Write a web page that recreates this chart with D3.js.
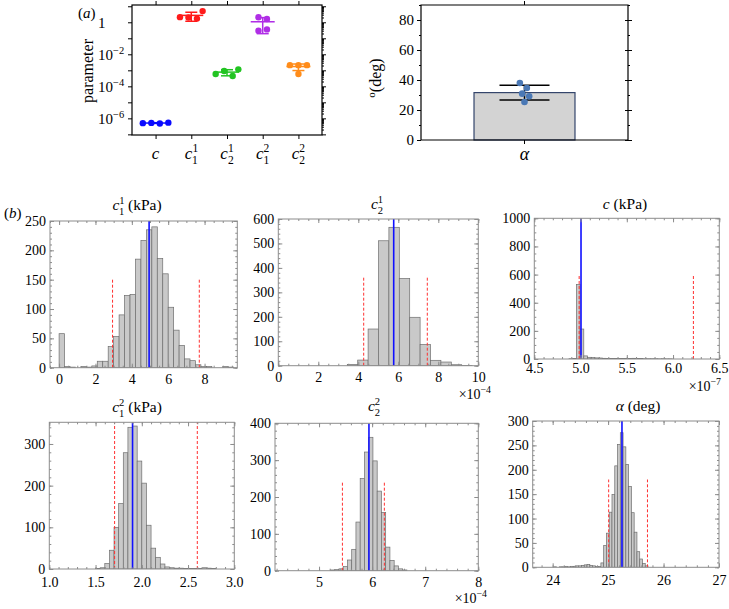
<!DOCTYPE html>
<html>
<head>
<meta charset="utf-8">
<script src="https://cdn.jsdelivr.net/npm/d3@7"></script>
<style>
  body { margin: 0; background: #fff; }
  svg text { font-family: "Liberation Serif", "DejaVu Serif", serif; }
</style>
</head>
<body>
<svg id="fig" width="729" height="609"></svg>
<script>
// ---------- panel (a): fitted parameters per specimen ----------
const params = ["c", "c11", "c21", "c12", "c22"];
const paramSub = ["", "1", "2", "1", "2"];
const paramSup = ["", "1", "1", "2", "2"];
const paramValues = [
    [5.2e-7, 4.8e-7, 5.0e-7, 5.4e-7],
    [2.0, 1.7, 2.1, 5.0],
    [9.1e-4, 4.4e-4, 5.9e-4, 1.15e-3],
    [2.05, 1.6, 0.30, 0.36],
    [2.1e-3, 2.1e-3, 2.1e-3, 5.9e-4]
];
const logTicks = [1e-6, 1e-4, 1e-2, 1];
const alphaValues = [25.3, 29.1, 30.9, 34.7, 38];
const alphaTicks = [0, 20, 40, 60, 80];

// ---------- panel (b): posterior histograms ----------
const c11Counts = [58, 2, 1, 0, 2, 1, 3, 11, 11, 36, 53, 90, 123, 125, 185, 217, 235, 240, 186, 160, 103, 64, 38, 15, 12, 5, 2, 2, 0, 0, 2, 1];
const c11Bins = [0, 0.3];          // first edge, width
const c11Lines = [4.95, 2.94, 7.71]; // mean, lower, upper
const c11XTicks = [0, 2, 4, 6, 8];
const c11YTicks = [0, 50, 100, 150, 200, 250];

const c21Counts = [5, 23, 150, 511, 566, 357, 198, 87, 22, 15, 4, 1];
const c21Bins = [3.45, 0.52];
const c21Lines = [5.77, 4.27, 7.45];
const c21XTicks = [0, 2, 4, 6, 8, 10];
const c21YTicks = [0, 100, 200, 300, 400, 500, 600];

const cCounts = [2, 3, 530, 213, 22, 12, 10, 8, 7, 5, 4, 4, 3, 4, 3, 3, 4, 5, 4, 3, 2, 2, 2, 2, 1, 2, 1, 1];
const cBins = [4.875, 0.04];
const cLines = [5.005, 4.985, 6.22];
const cXTicks = [4.5, 5.0, 5.5, 6.0, 6.5];
const cYTicks = [0, 200, 400, 600, 800, 1000];

const c12Counts = [1, 3, 13, 45, 100, 157, 279, 340, 343, 259, 206, 105, 50, 28, 12, 5, 3, 2, 2, 1, 1, 1, 1, 3, 2, 1];
const c12Bins = [1.5, 0.05];
const c12Lines = [1.90, 1.706, 2.60];
const c12XTicks = [1.0, 1.5, 2.0, 2.5, 3.0];
const c12YTicks = [0, 100, 200, 300];

const c22Counts = [2, 3, 5, 11, 29, 58, 132, 250, 322, 362, 298, 216, 158, 64, 28, 13, 5, 2];
const c22Bins = [5.215, 0.08];
const c22Lines = [5.94, 5.44, 6.23];
const c22XTicks = [5, 6, 7, 8];
const c22YTicks = [0, 100, 200, 300, 400];

const alphaCounts = [1, 0, 1, 1, 2, 1, 2, 2, 3, 3, 4, 5, 6, 4, 3, 2, 2, 9, 45, 70, 113, 149, 208, 252, 276, 247, 211, 166, 112, 72, 32, 17, 8, 3];
const alphaBins = [24.02, 0.05];
const alphaLines = [25.25, 25.01, 25.71];
const alphaXTicks = [24, 25, 26, 27];
const alphaYTicks = [0, 50, 100, 150, 200, 250, 300];

// ---------- helpers ----------
const svg = d3.select("#fig");

// italic symbol with stacked sub/superscript, then plain text
function symbolText(parent, x, y, size, base, sub, sup, rest, anchor) {
    const t = parent.append("text")
        .attr("x", x).attr("y", y)
        .attr("font-size", size)
        .attr("text-anchor", anchor || "middle");
    t.append("tspan").attr("font-style", "italic").text(base);
    const s = size * 0.68;
    if (sup) {
        t.append("tspan").attr("font-size", s).attr("dy", -size * 0.4).text(sup);
        t.append("tspan").attr("font-size", s).attr("dx", -s * 0.5).attr("dy", size * 0.72).text(sub);
        if (rest) t.append("tspan").attr("dy", -size * 0.32).text(rest);
    } else if (rest) {
        t.append("tspan").text(rest);
    }
    return t;
}

function powerText(sel, base, exp, size) {
    sel.text(base);
    sel.append("tspan").attr("font-size", size * 0.7).attr("dy", -size * 0.42).text(exp);
}

function minorRange(dom, step) {
    const lo = Math.ceil(dom[0] / step - 1e-6), hi = Math.floor(dom[1] / step + 1e-6);
    return d3.range(lo, hi + 1).map(k => +(k * step).toFixed(6));
}

function swarm(vals, yS, sep) {
    const placed = [];
    const step = sep / 3;
    vals.forEach(v => {
        const py = yS(v);
        for (let k = 0; k < 60; k++) {
            const dx = (k % 2 ? 1 : -1) * Math.ceil(k / 2) * step;
            if (placed.every(p => Math.hypot(p.dx - dx, p.y - py) >= sep)) {
                placed.push({dx: dx, y: py});
                break;
            }
        }
    });
    const mid = (d3.min(placed, p => p.dx) + d3.max(placed, p => p.dx)) / 2;
    return placed.map(p => p.dx - mid);
}

function styleAxis(g, color) {
    g.select(".domain").remove();
    g.selectAll(".tick line").attr("stroke", color);
    g.selectAll(".tick text").attr("fill", "#000");
    g.attr("font-family", null).attr("font-size", null);
}

// ---------- panel (a) left ----------
const paramColors = ["#0a0aff", "#ff1a1a", "#22c422", "#b02ee6", "#ff8c1a"];
const A = {left: 132, top: 5, right: 322, bottom: 135};

const xPar = d3.scalePoint().domain(params).range([A.left, A.right]).padding(0.66);
const yLog = d3.scaleLog()
    .domain([Math.pow(10, -7.04), Math.pow(10, 1.08)])
    .range([A.bottom, A.top]);

const gA = svg.append("g");
const decades = d3.range(-7, 2).map(e => Math.pow(10, e));
const logMinor = [];
decades.forEach(d => d3.range(2, 10).forEach(m => {
    const v = d * m;
    if (v < yLog.domain()[1]) logMinor.push(v);
}));

gA.append("g").attr("transform", "translate(" + A.left + ",0)")
    .call(d3.axisLeft(yLog).tickValues(decades).tickSize(4).tickFormat(""))
    .call(g => styleAxis(g, "#000"));
gA.append("g").attr("transform", "translate(" + A.left + ",0)")
    .call(d3.axisLeft(yLog).tickValues(logTicks).tickSize(0).tickFormat(""))
    .call(g => styleAxis(g, "#000"))
    .selectAll(".tick text")
    .attr("x", -34).attr("text-anchor", "start").attr("font-size", 15).attr("dy", "0.36em")
    .each(function (d) {
        const e = Math.round(Math.log10(d));
        if (e === 0) d3.select(this).text("1");
        else powerText(d3.select(this), "10", "\u2212" + Math.abs(e), 15);
    });
gA.append("g").attr("transform", "translate(" + A.right + ",0)")
    .call(d3.axisRight(yLog).tickValues(decades).tickSize(4).tickFormat(""))
    .call(g => styleAxis(g, "#000"));
gA.append("g").attr("transform", "translate(" + A.right + ",0)")
    .call(d3.axisRight(yLog).tickValues(logMinor).tickSize(2).tickFormat(""))
    .call(g => styleAxis(g, "#000"));
gA.append("g").attr("transform", "translate(0," + A.top + ")")
    .call(d3.axisTop(xPar).tickSize(4).tickFormat(""))
    .call(g => styleAxis(g, "#000"));
gA.append("g").attr("transform", "translate(0," + A.bottom + ")")
    .call(d3.axisBottom(xPar).tickSize(4).tickFormat(""))
    .call(g => styleAxis(g, "#000"));

gA.append("rect")
    .attr("x", A.left).attr("y", A.top)
    .attr("width", A.right - A.left).attr("height", A.bottom - A.top)
    .attr("fill", "none").attr("stroke", "#000").attr("stroke-width", 1.2);

params.forEach((p, i) => {
    symbolText(gA, xPar(p), 159, 17, "c", paramSub[i], paramSup[i], "");
});

gA.append("text")
    .attr("transform", "translate(93,71) rotate(-90)")
    .attr("text-anchor", "middle").attr("font-size", 16)
    .text("parameter");

const aLabel = gA.append("text").attr("x", 78).attr("y", 18).attr("font-size", 15);
aLabel.append("tspan").text("(");
aLabel.append("tspan").attr("font-style", "italic").text("a");
aLabel.append("tspan").text(")");

params.forEach((p, i) => {
    const vals = paramValues[i];
    const col = paramColors[i];
    const cx = xPar(p);
    const m = d3.mean(vals), sd = d3.deviation(vals);
    const g = gA.append("g").attr("stroke", col).attr("stroke-width", 1.5);
    g.append("line").attr("x1", cx).attr("x2", cx).attr("y1", yLog(m + sd)).attr("y2", yLog(m - sd));
    g.append("line").attr("x1", cx - 12).attr("x2", cx + 12).attr("y1", yLog(m)).attr("y2", yLog(m));
    [m + sd, m - sd].forEach(v => {
        g.append("line").attr("x1", cx - 6).attr("x2", cx + 6).attr("y1", yLog(v)).attr("y2", yLog(v));
    });
    const offs = swarm(vals, yLog, 8.5);
    gA.append("g").selectAll("circle")
        .data(vals)
        .join("circle")
        .attr("cx", (d, j) => cx + offs[j])
        .attr("cy", d => yLog(d))
        .attr("r", 3.2)
        .attr("fill", col);
});

// ---------- panel (a) right ----------
const B = {left: 421, top: 5, right: 628, bottom: 140};
const yAl = d3.scaleLinear().domain([0, 90]).range([B.bottom, B.top]);
const xAl = d3.scaleBand().domain(["alpha"]).range([B.left, B.right]).paddingInner(0).paddingOuter(0.525);
const gB = svg.append("g");

const aMean = d3.mean(alphaValues), aSd = d3.deviation(alphaValues);
gB.append("rect")
    .attr("x", xAl("alpha")).attr("width", xAl.bandwidth())
    .attr("y", yAl(aMean)).attr("height", yAl(0) - yAl(aMean))
    .attr("fill", "#d3d3d3").attr("stroke", "#34456b").attr("stroke-width", 1.2);

const acx = xAl("alpha") + xAl.bandwidth() / 2;
const eb = gB.append("g").attr("stroke", "#000").attr("stroke-width", 1.5);
eb.append("line").attr("x1", acx).attr("x2", acx).attr("y1", yAl(aMean + aSd)).attr("y2", yAl(aMean - aSd));
[aMean + aSd, aMean - aSd].forEach(v => {
    eb.append("line").attr("x1", acx - 25).attr("x2", acx + 25).attr("y1", yAl(v)).attr("y2", yAl(v));
});
const aOffs = swarm(alphaValues, yAl, 7);
gB.append("g").selectAll("circle")
    .data(alphaValues)
    .join("circle")
    .attr("cx", (d, j) => acx + aOffs[j])
    .attr("cy", d => yAl(d))
    .attr("r", 3.3)
    .attr("fill", "#4a78b5");

gB.append("g").attr("transform", "translate(" + B.left + ",0)")
    .call(d3.axisLeft(yAl).tickValues(alphaTicks).tickSize(4).tickPadding(3))
    .call(g => styleAxis(g, "#000"))
    .selectAll(".tick text").attr("font-size", 15);
gB.append("g").attr("transform", "translate(" + B.left + ",0)")
    .call(d3.axisLeft(yAl).tickValues([10, 30, 50, 70, 90]).tickSize(2).tickFormat(""))
    .call(g => styleAxis(g, "#000"));
gB.append("g").attr("transform", "translate(" + B.right + ",0)")
    .call(d3.axisRight(yAl).tickValues(alphaTicks).tickSize(4).tickFormat(""))
    .call(g => styleAxis(g, "#000"));
gB.append("g").attr("transform", "translate(" + B.right + ",0)")
    .call(d3.axisLeft(yAl).tickValues(alphaTicks).tickSize(3).tickFormat(""))
    .call(g => styleAxis(g, "#000"));
gB.append("g").attr("transform", "translate(" + B.right + ",0)")
    .call(d3.axisRight(yAl).tickValues([10, 30, 50, 70, 90]).tickSize(2).tickFormat(""))
    .call(g => styleAxis(g, "#000"));
gB.append("g").attr("transform", "translate(0," + B.top + ")")
    .call(d3.axisTop(xAl).tickSize(4).tickFormat(""))
    .call(g => styleAxis(g, "#000"));
gB.append("g").attr("transform", "translate(0," + B.bottom + ")")
    .call(d3.axisBottom(xAl).tickSize(4).tickFormat(""))
    .call(g => styleAxis(g, "#000"));

gB.append("path")
    .attr("d", "M" + B.left + "," + B.bottom + "V" + B.top + "H" + B.right + "V" + B.bottom + "Z")
    .attr("fill", "none").attr("stroke", "#000").attr("stroke-width", 1.2);

symbolText(gB, acx, 160, 18, "\u03b1", "", "", "");
const degLabel = gB.append("text")
    .attr("transform", "translate(381,78) rotate(-90)")
    .attr("text-anchor", "middle").attr("font-size", 16);
degLabel.append("tspan").attr("font-size", 11).attr("dy", -6).text("o");
degLabel.append("tspan").attr("dy", 6).text("(deg)");

// ---------- panel (b) ----------
const hists = [
    {t: ["c", "1", "1", "\u00a0(kPa)"], tx: 137, ty: 210, counts: c11Counts, bins: c11Bins, lines: c11Lines,
     guide: 150, xDom: [-0.5, 9.8], yMax: 250, xTicks: c11XTicks, yTicks: c11YTicks, xm: 0.5, ym: 10, fmt: d3.format("d"),
     box: [50, 221, 237.3, 367.7], pad: 6.5},
    {t: ["c", "2", "1", ""], tx: 377, ty: 209, counts: c21Counts, bins: c21Bins, lines: c21Lines,
     guide: 360, xDom: [0, 10], yMax: 600, xTicks: c21XTicks, yTicks: c21YTicks, xm: 0.5, ym: 20, fmt: d3.format("d"),
     box: [278.3, 219, 478.3, 365.7], pad: 6.5, exp: ["\u22124", 491, 399]},
    {t: ["c", "", "", "\u00a0(kPa)"], tx: 625, ty: 209, counts: cCounts, bins: cBins, lines: cLines,
     guide: 600, xDom: [4.5, 6.5], yMax: 1000, xTicks: cXTicks, yTicks: cYTicks, xm: 0.1, ym: 50, fmt: d3.format(".1f"),
     box: [534.3, 218.3, 719.3, 359], pad: 4, exp: ["\u22127", 721, 391]},
    {t: ["c", "1", "2", "\u00a0(kPa)"], tx: 137, ty: 412, counts: c12Counts, bins: c12Bins, lines: c12Lines,
     guide: 400, xDom: [1, 3], yMax: 352, xTicks: c12XTicks, yTicks: c12YTicks, xm: 0.1, ym: 20, fmt: d3.format(".1f"),
     box: [49.3, 422.3, 234.3, 569], pad: 8},
    {t: ["c", "2", "2", ""], tx: 374, ty: 411, counts: c22Counts, bins: c22Bins, lines: c22Lines,
     guide: 240, xDom: [4.17, 8], yMax: 400, xTicks: c22XTicks, yTicks: c22YTicks, xm: 0.2, ym: 20, fmt: d3.format("d"),
     box: [275, 423.3, 478.3, 570.7], pad: 6, exp: ["\u22124", 487, 603]},
    {t: ["\u03b1", "", "", "\u00a0(deg)"], tx: 638, ty: 411, counts: alphaCounts, bins: alphaBins, lines: alphaLines,
     guide: 180, xDom: [23.64, 27], yMax: 300, xTicks: alphaXTicks, yTicks: alphaYTicks, xm: 0.2, ym: 10, fmt: d3.format("d"),
     box: [532.7, 421, 719, 567.3], pad: 8}
];

const frameCol = "#8c8c8c";

hists.forEach((h, idx) => {
    const [x0, y0, x1, y1] = h.box;
    const x = d3.scaleLinear().domain(h.xDom).range([x0, x1]);
    const y = d3.scaleLinear().domain([0, h.yMax]).range([y1, y0]);
    const g = svg.append("g");

    const clipId = "clip" + idx;
    g.append("clipPath").attr("id", clipId).append("rect")
        .attr("x", x0).attr("y", y0).attr("width", x1 - x0).attr("height", y1 - y0);

    const bins = h.counts.map((n, i) => ({
        x0: h.bins[0] + i * h.bins[1],
        x1: h.bins[0] + (i + 1) * h.bins[1],
        n: n
    })).filter(b => b.n > 0);

    g.append("g").attr("clip-path", "url(#" + clipId + ")")
        .selectAll("rect")
        .data(bins)
        .join("rect")
        .attr("x", d => x(d.x0))
        .attr("width", d => x(d.x1) - x(d.x0))
        .attr("y", d => y(d.n))
        .attr("height", d => y(0) - y(d.n))
        .attr("fill", "#c9c9c9")
        .attr("stroke", "#6e6e6e")
        .attr("stroke-width", 0.7);

    const lg = g.append("g").attr("clip-path", "url(#" + clipId + ")");
    [h.lines[1], h.lines[2]].forEach(v => {
        lg.append("line")
            .attr("x1", x(v)).attr("x2", x(v))
            .attr("y1", y(0)).attr("y2", y(h.guide))
            .attr("stroke", "#ff3030").attr("stroke-width", 1)
            .attr("stroke-dasharray", "3,2");
    });
    lg.append("line")
        .attr("x1", x(h.lines[0])).attr("x2", x(h.lines[0]))
        .attr("y1", y(0)).attr("y2", y(h.yMax))
        .attr("stroke", "#1010ff").attr("stroke-width", 1.6);

    const xMinor = minorRange(h.xDom, h.xm);
    const yMinor = minorRange([0, h.yMax], h.ym);
    const xMajIn = h.xTicks.filter(v => v >= h.xDom[0] - 1e-9 && v <= h.xDom[1] + 1e-9);

    g.append("g").attr("transform", "translate(0," + y1 + ")")
        .call(d3.axisBottom(x).tickValues(xMinor).tickSize(-2).tickFormat(""))
        .call(s => styleAxis(s, frameCol));
    g.append("g").attr("transform", "translate(0," + y1 + ")")
        .call(d3.axisBottom(x).tickValues(h.xTicks).tickSize(-4).tickPadding(h.pad).tickFormat(h.fmt))
        .call(s => styleAxis(s, frameCol))
        .call(s => s.selectAll(".tick text").attr("font-size", 14))
        .call(s => s.selectAll(".tick line").attr("opacity", d => xMajIn.includes(d) ? 1 : 0));
    g.append("g").attr("transform", "translate(0," + y0 + ")")
        .call(d3.axisTop(x).tickValues(xMinor).tickSize(-2).tickFormat(""))
        .call(s => styleAxis(s, frameCol));
    g.append("g").attr("transform", "translate(0," + y0 + ")")
        .call(d3.axisTop(x).tickValues(xMajIn).tickSize(-4).tickFormat(""))
        .call(s => styleAxis(s, frameCol));

    g.append("g").attr("transform", "translate(" + x0 + ",0)")
        .call(d3.axisLeft(y).tickValues(yMinor).tickSize(-2).tickFormat(""))
        .call(s => styleAxis(s, frameCol));
    g.append("g").attr("transform", "translate(" + x0 + ",0)")
        .call(d3.axisLeft(y).tickValues(h.yTicks).tickSize(-4).tickPadding(4).tickFormat(d3.format("d")))
        .call(s => styleAxis(s, frameCol))
        .call(s => s.selectAll(".tick text").attr("font-size", 14));
    g.append("g").attr("transform", "translate(" + x1 + ",0)")
        .call(d3.axisRight(y).tickValues(yMinor).tickSize(-2).tickFormat(""))
        .call(s => styleAxis(s, frameCol));
    g.append("g").attr("transform", "translate(" + x1 + ",0)")
        .call(d3.axisRight(y).tickValues(h.yTicks).tickSize(-4).tickFormat(""))
        .call(s => styleAxis(s, frameCol));

    g.append("rect")
        .attr("x", x0).attr("y", y0).attr("width", x1 - x0).attr("height", y1 - y0)
        .attr("fill", "none").attr("stroke", frameCol).attr("stroke-width", 1);

    symbolText(g, h.tx, h.ty, 15.5, h.t[0], h.t[1], h.t[2], h.t[3]);

    if (h.exp) {
        const et = g.append("text")
            .attr("x", h.exp[1]).attr("y", h.exp[2])
            .attr("text-anchor", "end").attr("font-size", 14);
        powerText(et, "\u00d710", h.exp[0], 14);
    }
});

const bLabel = svg.append("text").attr("x", 4).attr("y", 218).attr("font-size", 15);
bLabel.append("tspan").text("(");
bLabel.append("tspan").attr("font-style", "italic").text("b");
bLabel.append("tspan").text(")");
</script>
</body>
</html>
